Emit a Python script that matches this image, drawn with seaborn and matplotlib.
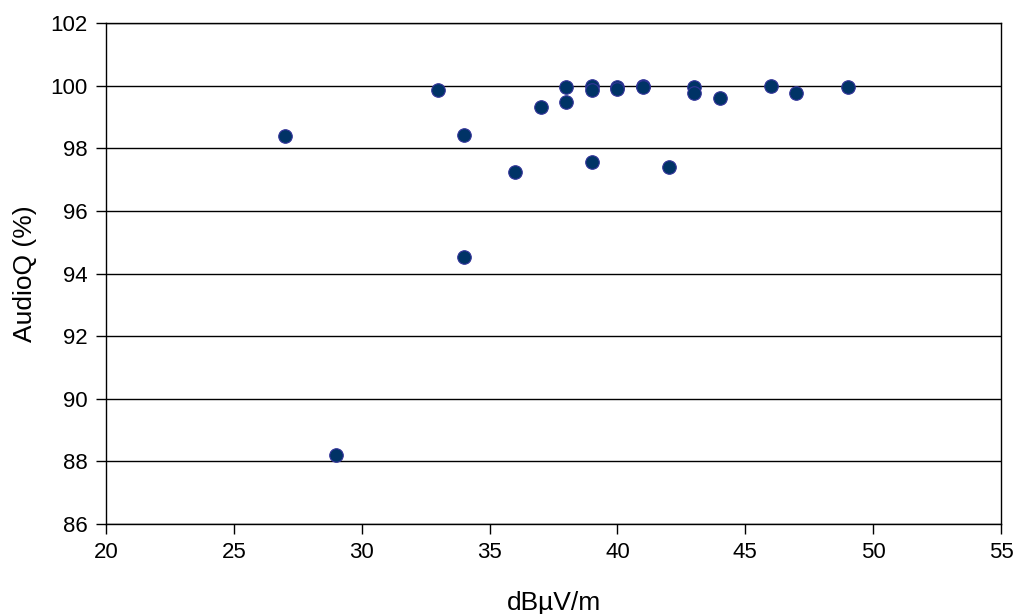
import matplotlib
matplotlib.use('Agg')
import matplotlib.pyplot as plt
import seaborn as sns
import pandas as pd

# field strength (dBuV/m) vs audio quality (%)
field_strength = [27, 29, 33, 34, 34, 36, 37, 38, 38, 39, 39, 39,
                  40, 40, 41, 41, 42, 43, 43, 44, 46, 47, 49]
audio_q = [98.38, 88.2, 99.86, 98.43, 94.52, 97.23, 99.32, 99.47, 99.96, 100.0, 99.86, 97.55,
           99.96, 99.88, 100.0, 99.95, 97.41, 99.96, 99.75, 99.62, 100.0, 99.77, 99.96]

df = pd.DataFrame({'dBµV/m': field_strength, 'AudioQ (%)': audio_q})

sns.set_style('white')
plt.rcParams['font.family'] = ['Liberation Sans', 'DejaVu Sans']
plt.rcParams['text.color'] = 'black'
plt.rcParams['axes.labelcolor'] = 'black'
plt.rcParams['xtick.color'] = 'black'
plt.rcParams['ytick.color'] = 'black'

fig = plt.figure(figsize=(10.17, 6.14), dpi=100)
ax = fig.add_axes([106 / 1017, 1 - 524 / 614, (1001 - 106) / 1017, (524 - 23) / 614])

ax.set_axisbelow(True)
ax.grid(axis='y', color='black', linewidth=1)
sns.scatterplot(data=df, x='dBµV/m', y='AudioQ (%)', ax=ax, s=95,
                color='#003366', edgecolor='#333399', linewidth=0.8, zorder=3)

ax.set_xlim(20, 55)
ax.set_ylim(86, 102)
ax.set_xticks(range(20, 56, 5))
ax.set_yticks(range(86, 103, 2))
ax.tick_params(direction='out', length=7, width=1, color='black',
               labelsize=16, bottom=True, left=True, pad=6)
for sp in ax.spines.values():
    sp.set_color('black')
    sp.set_linewidth(1)

ax.set_xlabel('dBµV/m', fontsize=19, labelpad=20)
ax.set_ylabel('AudioQ (%)', fontsize=19, labelpad=10)

fig.savefig('out.png', dpi=100)
